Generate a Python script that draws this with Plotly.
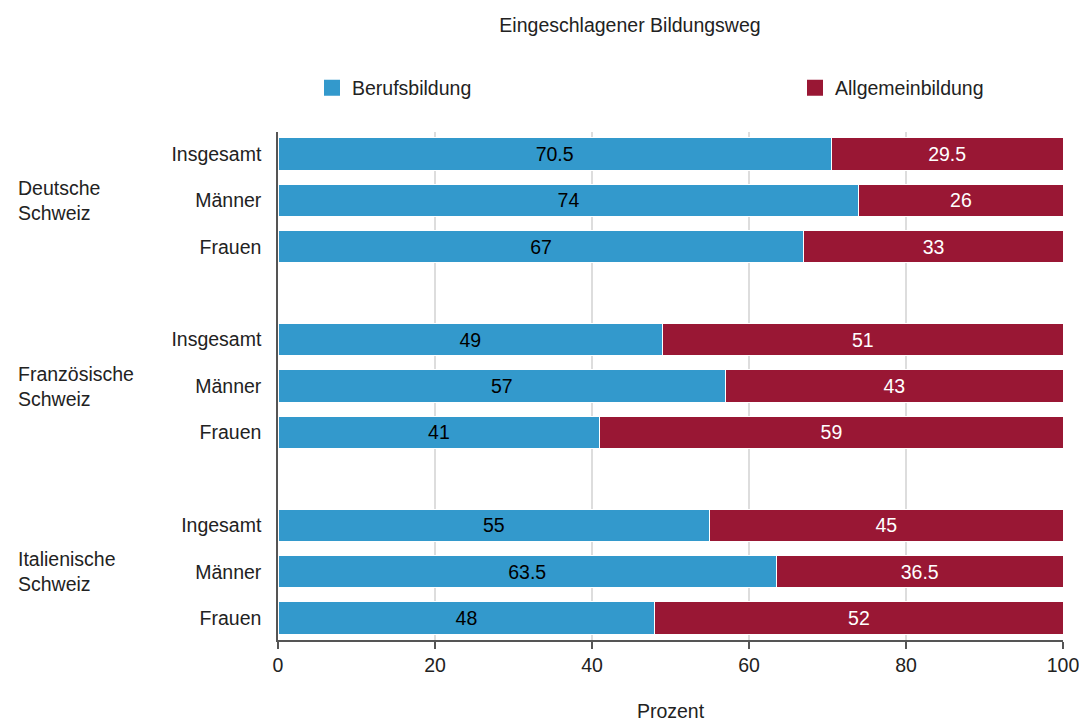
import plotly.graph_objects as go

regions = ["Deutsche<br>Schweiz", "Französische<br>Schweiz", "Italienische<br>Schweiz"]
subgroups = [["Insgesamt", "Männer", "Frauen"],
             ["Insgesamt", "Männer", "Frauen"],
             ["Ingesamt", "Männer", "Frauen"]]
berufsbildung = [70.5, 74, 67, 49, 57, 41, 55, 63.5, 48]
allgemeinbildung = [29.5, 26, 33, 51, 43, 59, 45, 36.5, 52]
berufs_labels = ["70.5", "74", "67", "49", "57", "41", "55", "63.5", "48"]
allg_labels = ["29.5", "26", "33", "51", "43", "59", "45", "36.5", "52"]
x_ticks = [0, 20, 40, 60, 80, 100]

BLUE = "#3399cc"
RED = "#991734"
FONT = "Liberation Sans Narrow, Arial Narrow, Liberation Sans, Arial, sans-serif"
FS = 19.5
TXT = "#222222"

W, H = 1079, 722
ML, MR, MT, MB = 278, 16, 132, 82
PW = W - ML - MR
PH = H - MT - MB

# positions: each region occupies 3 slots plus one empty spacer slot
ypos, ytext = [], []
for gi, subs in enumerate(subgroups):
    for si, s in enumerate(subs):
        ypos.append(gi * 4 + si)
        ytext.append(s)

fig = go.Figure()
fig.add_trace(go.Bar(
    y=ypos, x=berufsbildung, orientation="h", name="Berufsbildung",
    marker=dict(color=BLUE, line=dict(color="white", width=1)),
    text=berufs_labels, textposition="inside", insidetextanchor="middle",
    textfont=dict(color="black", size=FS, family=FONT),
    width=0.7, showlegend=False, hoverinfo="x+y"))
fig.add_trace(go.Bar(
    y=ypos, x=allgemeinbildung, orientation="h", name="Allgemeinbildung",
    marker=dict(color=RED, line=dict(color="white", width=1)),
    text=allg_labels, textposition="inside", insidetextanchor="middle",
    textfont=dict(color="white", size=FS, family=FONT),
    width=0.7, showlegend=False, hoverinfo="x+y"))

# legend-only traces with square symbols, each in its own legend box
fig.add_trace(go.Scatter(x=[None], y=[None], mode="markers", name="Berufsbildung",
                         marker=dict(symbol="square", size=22, color=BLUE),
                         showlegend=True, legend="legend"))
fig.add_trace(go.Scatter(x=[None], y=[None], mode="markers", name="Allgemeinbildung",
                         marker=dict(symbol="square", size=22, color=RED),
                         showlegend=True, legend="legend2"))

for gi, r in enumerate(regions):
    fig.add_annotation(text=r, xref="paper", yref="y", x=(16 - ML) / PW, y=gi * 4 + 1,
                       xanchor="left", yanchor="middle", align="left", showarrow=False,
                       font=dict(size=FS, family=FONT, color=TXT))

leg_common = dict(orientation="h", xanchor="left", y=1 + (MT - 88) / PH, yanchor="middle",
                  itemsizing="trace", traceorder="normal",
                  font=dict(size=FS, family=FONT, color=TXT), bgcolor="rgba(0,0,0,0)")

fig.update_layout(
    width=W, height=H,
    margin=dict(l=ML, r=MR, t=MT, b=MB),
    paper_bgcolor="white", plot_bgcolor="white",
    barmode="stack", bargap=0.3,
    font=dict(family=FONT, size=FS, color=TXT),
    title=dict(text="Eingeschlagener Bildungsweg", x=630 / W, xanchor="center",
               y=1 - 25 / H, yanchor="middle", font=dict(size=FS, family=FONT, color=TXT)),
    legend=dict(x=(312 - ML) / PW, **leg_common),
    legend2=dict(x=(795 - ML) / PW, **leg_common),
    xaxis=dict(range=[0, 100], tickvals=x_ticks,
               showgrid=True, gridcolor="#dddddd", gridwidth=2,
               showline=True, linecolor="#555555", linewidth=1.5,
               ticks="outside", ticklen=7, tickcolor="#555555", tickwidth=1.5,
               tickfont=dict(size=FS), zeroline=False, automargin=False,
               ticklabeloverflow="allow",
               title=dict(text="Prozent", font=dict(size=FS), standoff=31)),
    yaxis=dict(range=[10.47, -0.47], tickvals=ypos, ticktext=ytext,
               showgrid=False, showline=True, linecolor="#555555", linewidth=1.5,
               ticks="", ticklabelstandoff=11, tickfont=dict(size=FS), zeroline=False,
               automargin=False),
)

# remove the browser's default 8px body margin so the figure fills the window exactly
fig.write_html("out.html", config={"displayModeBar": False},
               post_script="document.body.style.margin='0';document.body.style.overflow='hidden';")
